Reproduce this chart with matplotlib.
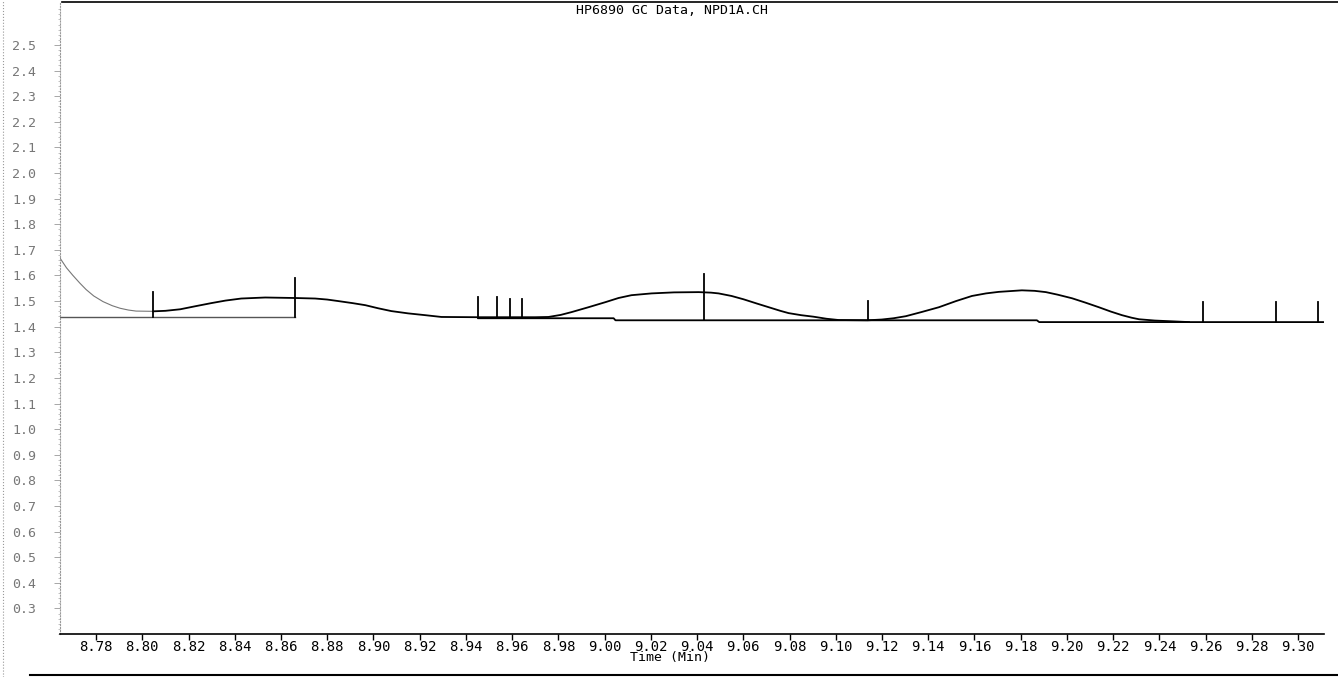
import matplotlib
matplotlib.use("Agg")
import matplotlib.pyplot as plt
from matplotlib.lines import Line2D
import numpy as np

# chromatogram trace (time in min, signal)
time = [8.7644, 8.7672, 8.7700, 8.7730, 8.7757, 8.7790, 8.7830, 8.7870, 8.7904,
        8.7940, 8.7973, 8.8047, 8.8100, 8.8164, 8.8230, 8.8298, 8.8360, 8.8428,
        8.8532, 8.8662, 8.8748, 8.8800, 8.8848, 8.8910, 8.8965, 8.9020, 8.9077,
        8.9150, 8.9224, 8.9294, 8.9454, 8.9700, 8.9757, 8.9810, 8.9857, 8.9930,
        9.0004, 9.0060, 9.0116, 9.0203, 9.0300, 9.0407, 9.0460, 9.0493, 9.0549,
        9.0601, 9.0660, 9.0710, 9.0760, 9.0796, 9.0850, 9.0904, 9.0960, 9.1013,
        9.1138, 9.1199, 9.1250, 9.1303, 9.1370, 9.1446, 9.1520, 9.1589, 9.1650,
        9.1705, 9.1805, 9.1860, 9.1909, 9.1960, 9.2022, 9.2080, 9.2138, 9.2190,
        9.2238, 9.2280, 9.2312, 9.2380, 9.2455, 9.2528]
signal = [1.668, 1.630, 1.600, 1.570, 1.545, 1.520, 1.498, 1.482, 1.472,
          1.465, 1.461, 1.460, 1.462, 1.468, 1.480, 1.492, 1.502, 1.510,
          1.514, 1.512, 1.510, 1.506, 1.500, 1.492, 1.484, 1.472, 1.461,
          1.452, 1.445, 1.438, 1.437, 1.437, 1.438, 1.446, 1.457, 1.476,
          1.496, 1.512, 1.523, 1.530, 1.534, 1.535, 1.533, 1.530, 1.520,
          1.507, 1.490, 1.476, 1.462, 1.453, 1.445, 1.439, 1.431, 1.426,
          1.425, 1.428, 1.433, 1.441, 1.457, 1.476, 1.500, 1.520, 1.530,
          1.536, 1.542, 1.540, 1.535, 1.525, 1.511, 1.494, 1.476, 1.459,
          1.445, 1.435, 1.429, 1.424, 1.421, 1.418]

# integration baselines
base1_time = [8.7644, 8.8662]
base1_val = [1.437, 1.437]
base2_time = [8.9454, 9.0039, 9.0047, 9.1870, 9.1880, 9.3108]
base2_val = [1.433, 1.433, 1.425, 1.425, 1.418, 1.418]

# peak start/stop markers
mark_time = [8.8047, 8.8662, 8.9454, 8.9536, 8.9590, 8.9642, 9.0428, 9.1138,
             9.2590, 9.2906, 9.3084]
mark_top = [1.535, 1.589, 1.515, 1.515, 1.508, 1.508, 1.605, 1.500,
            1.496, 1.496, 1.496]

xticks = np.round(np.arange(8.78, 9.301, 0.02), 2)
yticks = np.round(np.arange(0.3, 2.501, 0.1), 1)

fig = plt.figure(figsize=(13.38, 6.77), dpi=100)
ax = fig.add_axes([60 / 1338, 1 - 634 / 677, (1324 - 60) / 1338, (634 - 3) / 677])

mono = "DejaVu Sans Mono"

# early part of trace is drawn lighter
n0 = 12
ax.plot(time[:n0], signal[:n0], color="#777777", lw=0.8)
ax.plot(time[n0 - 1:], signal[n0 - 1:], color="black", lw=1.3)
ax.plot(base1_time, base1_val, color="#555555", lw=1.0)
ax.plot(base2_time, base2_val, color="black", lw=1.3)

for t, top in zip(mark_time, mark_top):
    if t <= base1_time[-1]:
        bot = base1_val[0]
    else:
        bot = np.interp(t, base2_time, base2_val)
    ax.plot([t, t], [bot, top], color="black", lw=1.3)

ax.set_xlim(8.7644, 9.3112)
ax.set_ylim(0.2, 2.664)

ax.set_xticks(xticks)
ax.set_xticklabels([f"{v:.2f}" for v in xticks], fontsize=10, family=mono)
ax.set_yticks(yticks)
ax.set_yticklabels([f"{v:.1f}" for v in yticks], fontsize=9.5, family=mono,
                   color="#777777")
ax.set_yticks(np.arange(0.2, 2.66, 0.02), minor=True)
ax.tick_params(axis="x", direction="out", length=4, width=1, pad=0)
ax.tick_params(axis="y", which="major", direction="out", length=4, width=0.6,
               color="#999999", pad=13)
ax.tick_params(axis="y", which="minor", direction="out", length=1.5, width=0.5,
               color="#aaaaaa")

ax.spines["right"].set_visible(False)
ax.spines["top"].set_visible(False)
ax.spines["left"].set_color("#999999")
ax.spines["left"].set_linestyle(":")
ax.spines["left"].set_linewidth(0.8)
ax.spines["bottom"].set_linewidth(1.2)

fig.text(672 / 1338, 1 - 11 / 677, "HP6890 GC Data, NPD1A.CH", ha="center",
         va="center", fontsize=9.5, family=mono)
fig.text(670 / 1338, 1 - 658 / 677, "Time (Min)", ha="center", va="center",
         fontsize=9.5, family=mono)

# page frame lines
fig.add_artist(Line2D([62 / 1338, 1.0], [1 - 2 / 677] * 2, color="black", lw=1.2))
fig.add_artist(Line2D([30 / 1338, 1.0], [1 - 675 / 677] * 2, color="black", lw=1.5))
fig.add_artist(Line2D([3 / 1338] * 2, [0, 1], color="#999999", lw=0.8, ls=":"))

fig.savefig("out.png", dpi=100)
